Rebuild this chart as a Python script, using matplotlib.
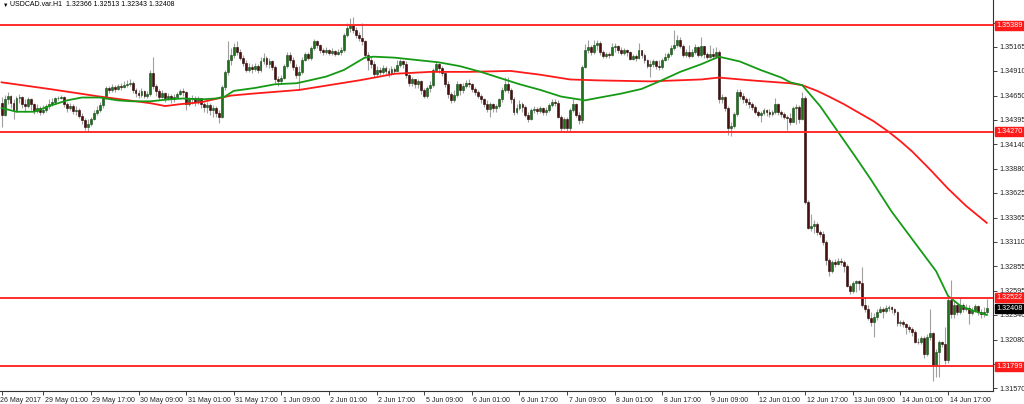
import numpy as np
import matplotlib
matplotlib.use("Agg")
import matplotlib.pyplot as plt
from matplotlib.transforms import ScaledTranslation, blended_transform_factory

plt.rcParams['font.family'] = ['Liberation Sans', 'DejaVu Sans']

# USDCAD H1, one bar per hour (bar index 0 = 26 May 2017 11:00)
first_open = 1.3457
close = [
    1.3445, 1.3461, 1.3465, 1.3457, 1.3450, 1.3462, 1.3464, 1.3456, 1.3454, 1.3461,
    1.3456, 1.3449, 1.3452, 1.3448, 1.3450, 1.3454, 1.3456, 1.3458, 1.3462, 1.3463,
    1.3464, 1.3456, 1.3452, 1.3454, 1.3449, 1.3450, 1.3444, 1.3439, 1.3432, 1.3435,
    1.3440, 1.3447, 1.3450, 1.3455, 1.3463, 1.3473, 1.3471, 1.3474, 1.3472, 1.3475,
    1.3474, 1.3476, 1.3477, 1.3478, 1.3471, 1.3468, 1.3466, 1.3470, 1.3465, 1.3467,
    1.3489, 1.3475, 1.3470, 1.3464, 1.3468, 1.3463, 1.3465, 1.3461, 1.3464, 1.3467,
    1.3470, 1.3469, 1.3456, 1.3461, 1.3463, 1.3458, 1.3462, 1.3456, 1.3453, 1.3455,
    1.3450, 1.3452, 1.3447, 1.3443, 1.3474, 1.3490, 1.3503, 1.3508, 1.3516, 1.3511,
    1.3505, 1.3499, 1.3492, 1.3495, 1.3493, 1.3496, 1.3492, 1.3501, 1.3505, 1.3498,
    1.3501, 1.3495, 1.3482, 1.3480, 1.3484, 1.3496, 1.3508, 1.3503, 1.3495, 1.3487,
    1.3490, 1.3503, 1.3509, 1.3505, 1.3515, 1.3522, 1.3518, 1.3513, 1.3511, 1.3513,
    1.3510, 1.3512, 1.3509, 1.3511, 1.3513, 1.3529, 1.3536, 1.3539, 1.3534, 1.3529,
    1.3526, 1.3522, 1.3508, 1.3503, 1.3498, 1.3488, 1.3492, 1.3490, 1.3494, 1.3491,
    1.3489, 1.3493, 1.3491, 1.3497, 1.3501, 1.3498, 1.3487, 1.3478, 1.3482, 1.3477,
    1.3480, 1.3471, 1.3465, 1.3473, 1.3476, 1.3492, 1.3498, 1.3494, 1.3489, 1.3477,
    1.3467, 1.3460, 1.3466, 1.3477, 1.3471, 1.3475, 1.3478, 1.3477, 1.3472, 1.3469,
    1.3465, 1.3461, 1.3456, 1.3451, 1.3456, 1.3452, 1.3454, 1.3461, 1.3471, 1.3477,
    1.3471, 1.3461, 1.3448, 1.3452, 1.3456, 1.3453, 1.3445, 1.3440, 1.3450, 1.3451,
    1.3449, 1.3452, 1.3448, 1.3450, 1.3455, 1.3458, 1.3457, 1.3443, 1.3431, 1.3440,
    1.3431, 1.3450, 1.3456, 1.3445, 1.3439, 1.3495, 1.3513, 1.3516, 1.3511, 1.3518,
    1.3520, 1.3511, 1.3507, 1.3509, 1.3508, 1.3516, 1.3517, 1.3513, 1.3510, 1.3513,
    1.3511, 1.3504, 1.3507, 1.3505, 1.3513, 1.3508, 1.3502, 1.3496, 1.3498, 1.3501,
    1.3496, 1.3495, 1.3503, 1.3506, 1.3509, 1.3515, 1.3518, 1.3524, 1.3517, 1.3508,
    1.3511, 1.3507, 1.3511, 1.3516, 1.3508, 1.3517, 1.3509, 1.3506, 1.3509, 1.3507,
    1.3511, 1.3461, 1.3464, 1.3452, 1.3431, 1.3433, 1.3446, 1.3469, 1.3465, 1.3461,
    1.3458, 1.3456, 1.3453, 1.3448, 1.3445, 1.3447, 1.3450, 1.3448, 1.3446, 1.3448,
    1.3456, 1.3448, 1.3446, 1.3443, 1.3441, 1.3437, 1.3452, 1.3453, 1.3440, 1.3463,
    1.3353, 1.3326, 1.3328, 1.3330, 1.3321, 1.3319, 1.3311, 1.3292, 1.3280, 1.3290,
    1.3288, 1.3291, 1.3290, 1.3286, 1.3265, 1.3259, 1.3268, 1.3270, 1.3268, 1.3245,
    1.3240, 1.3231, 1.3227, 1.3232, 1.3237, 1.3240, 1.3238, 1.3241, 1.3242, 1.3240,
    1.3237, 1.3225, 1.3227, 1.3224, 1.3221, 1.3219, 1.3216, 1.3206, 1.3205, 1.3210,
    1.3193, 1.3211, 1.3215, 1.3180, 1.3195, 1.3205, 1.3203, 1.3187, 1.3250, 1.3235,
    1.3244, 1.3237, 1.3245, 1.3240, 1.3241, 1.3236, 1.3239, 1.3243, 1.3237, 1.3235,
    1.32366, 1.32408]
high = [
    1.3464, 1.3466, 1.3469, 1.3466, 1.3461, 1.3465, 1.3467, 1.3465, 1.3461, 1.3464,
    1.3463, 1.3457, 1.3456, 1.3454, 1.3455, 1.3456, 1.3461, 1.3463, 1.3464, 1.3465,
    1.3466, 1.3465, 1.3458, 1.3457, 1.3456, 1.3454, 1.3452, 1.3447, 1.3441, 1.3440,
    1.3443, 1.3450, 1.3454, 1.3458, 1.3465, 1.3475, 1.3475, 1.3477, 1.3476, 1.3477,
    1.3478, 1.3480, 1.3481, 1.3482, 1.3480, 1.3473, 1.3471, 1.3473, 1.3471, 1.3470,
    1.3492, 1.3506, 1.3477, 1.3472, 1.3471, 1.3469, 1.3468, 1.3467, 1.3467, 1.3469,
    1.3472, 1.3473, 1.3470, 1.3464, 1.3466, 1.3465, 1.3465, 1.3463, 1.3458, 1.3458,
    1.3457, 1.3455, 1.3454, 1.3450, 1.3476, 1.3492, 1.3522, 1.3515, 1.3520, 1.3522,
    1.3514, 1.3508, 1.3502, 1.3499, 1.3498, 1.3499, 1.3498, 1.3506, 1.3510, 1.3507,
    1.3505, 1.3503, 1.3497, 1.3486, 1.3487, 1.3498, 1.3511, 1.3511, 1.3506, 1.3498,
    1.3496, 1.3506, 1.3511, 1.3511, 1.3517, 1.3525, 1.3524, 1.3519, 1.3515, 1.3516,
    1.3514, 1.3515, 1.3513, 1.3514, 1.3516, 1.3531, 1.3542, 1.3547, 1.3548, 1.3537,
    1.3532, 1.3542, 1.3524, 1.3511, 1.3507, 1.3501, 1.3496, 1.3495, 1.3497, 1.3496,
    1.3494, 1.3496, 1.3495, 1.3503, 1.3504, 1.3503, 1.3501, 1.3489, 1.3485, 1.3483,
    1.3482, 1.3481, 1.3473, 1.3475, 1.3480, 1.3494, 1.3501, 1.3499, 1.3496, 1.3490,
    1.3480, 1.3469, 1.3471, 1.3480, 1.3478, 1.3478, 1.3481, 1.3482, 1.3478, 1.3474,
    1.3471, 1.3467, 1.3463, 1.3460, 1.3458, 1.3457, 1.3456, 1.3463, 1.3474, 1.3485,
    1.3485, 1.3473, 1.3464, 1.3456, 1.3460, 1.3458, 1.3455, 1.3448, 1.3452, 1.3454,
    1.3453, 1.3454, 1.3453, 1.3453, 1.3457, 1.3461, 1.3461, 1.3460, 1.3445, 1.3443,
    1.3442, 1.3452, 1.3461, 1.3457, 1.3448, 1.3497, 1.3519, 1.3524, 1.3518, 1.3524,
    1.3524, 1.3522, 1.3513, 1.3511, 1.3511, 1.3520, 1.3520, 1.3518, 1.3516, 1.3515,
    1.3514, 1.3512, 1.3509, 1.3509, 1.3520, 1.3513, 1.3510, 1.3504, 1.3503, 1.3504,
    1.3503, 1.3502, 1.3505, 1.3510, 1.3511, 1.3518, 1.3534, 1.3529, 1.3527, 1.3519,
    1.3514, 1.3518, 1.3514, 1.3519, 1.3517, 1.3527, 1.3517, 1.3511, 1.3518, 1.3515,
    1.3516, 1.3513, 1.3467, 1.3465, 1.3454, 1.3437, 1.3448, 1.3472, 1.3472, 1.3468,
    1.3464, 1.3462, 1.3458, 1.3455, 1.3450, 1.3449, 1.3452, 1.3451, 1.3451, 1.3450,
    1.3463, 1.3457, 1.3450, 1.3448, 1.3445, 1.3447, 1.3454, 1.3456, 1.3455, 1.3469,
    1.3465, 1.3355, 1.3340, 1.3334, 1.3332, 1.3323, 1.3322, 1.3313, 1.3294, 1.3292,
    1.3293, 1.3294, 1.3294, 1.3292, 1.3288, 1.3267, 1.3270, 1.3271, 1.3271, 1.3285,
    1.3253, 1.3245, 1.3237, 1.3236, 1.3240, 1.3243, 1.3242, 1.3244, 1.3244, 1.3243,
    1.3241, 1.3238, 1.3229, 1.3229, 1.3226, 1.3223, 1.3221, 1.3218, 1.3210, 1.3212,
    1.3212, 1.3214, 1.3240, 1.3216, 1.3198, 1.3208, 1.3207, 1.3221, 1.3252, 1.3271,
    1.3250, 1.3247, 1.3252, 1.3247, 1.3246, 1.3244, 1.3242, 1.3246, 1.3244, 1.3240,
    1.3242, 1.32513]
low = [
    1.3432, 1.3444, 1.3456, 1.3452, 1.3440, 1.3448, 1.3457, 1.3452, 1.3448, 1.3452,
    1.3450, 1.3446, 1.3447, 1.3445, 1.3446, 1.3448, 1.3451, 1.3454, 1.3456, 1.3460,
    1.3461, 1.3453, 1.3448, 1.3450, 1.3446, 1.3445, 1.3441, 1.3435, 1.3429, 1.3427,
    1.3433, 1.3439, 1.3445, 1.3448, 1.3452, 1.3461, 1.3468, 1.3469, 1.3469, 1.3471,
    1.3471, 1.3473, 1.3474, 1.3475, 1.3468, 1.3464, 1.3462, 1.3464, 1.3462, 1.3463,
    1.3465, 1.3472, 1.3465, 1.3460, 1.3462, 1.3458, 1.3460, 1.3457, 1.3458, 1.3462,
    1.3466, 1.3465, 1.3450, 1.3454, 1.3456, 1.3454, 1.3456, 1.3452, 1.3448, 1.3447,
    1.3445, 1.3443, 1.3442, 1.3436, 1.3441, 1.3471, 1.3487, 1.3497, 1.3505, 1.3508,
    1.3502, 1.3496, 1.3490, 1.3490, 1.3489, 1.3491, 1.3489, 1.3490, 1.3498, 1.3495,
    1.3494, 1.3492, 1.3478, 1.3475, 1.3477, 1.3482, 1.3494, 1.3499, 1.3492, 1.3484,
    1.3471, 1.3488, 1.3501, 1.3502, 1.3503, 1.3513, 1.3515, 1.3510, 1.3508, 1.3509,
    1.3508, 1.3508, 1.3507, 1.3508, 1.3508, 1.3511, 1.3527, 1.3532, 1.3531, 1.3526,
    1.3522, 1.3518, 1.3505, 1.3492, 1.3494, 1.3485, 1.3486, 1.3487, 1.3488, 1.3488,
    1.3485, 1.3487, 1.3488, 1.3491, 1.3495, 1.3494, 1.3484, 1.3475, 1.3475, 1.3473,
    1.3473, 1.3467, 1.3462, 1.3463, 1.3469, 1.3474, 1.3490, 1.3489, 1.3486, 1.3474,
    1.3463, 1.3457, 1.3458, 1.3464, 1.3466, 1.3468, 1.3473, 1.3474, 1.3469, 1.3466,
    1.3463, 1.3457, 1.3453, 1.3448, 1.3443, 1.3448, 1.3448, 1.3452, 1.3458, 1.3469,
    1.3468, 1.3457, 1.3445, 1.3446, 1.3450, 1.3448, 1.3442, 1.3437, 1.3439, 1.3447,
    1.3446, 1.3447, 1.3445, 1.3445, 1.3448, 1.3453, 1.3454, 1.3441, 1.3427, 1.3430,
    1.3427, 1.3428, 1.3448, 1.3442, 1.3435, 1.3436, 1.3494, 1.3510, 1.3508, 1.3509,
    1.3513, 1.3508, 1.3505, 1.3505, 1.3505, 1.3507, 1.3511, 1.3510, 1.3508, 1.3508,
    1.3507, 1.3502, 1.3503, 1.3501, 1.3504, 1.3505, 1.3499, 1.3494, 1.3485, 1.3495,
    1.3493, 1.3492, 1.3493, 1.3501, 1.3503, 1.3507, 1.3513, 1.3516, 1.3515, 1.3506,
    1.3506, 1.3505, 1.3506, 1.3509, 1.3506, 1.3506, 1.3505, 1.3504, 1.3505, 1.3504,
    1.3505, 1.3457, 1.3457, 1.3449, 1.3424, 1.3422, 1.3431, 1.3444, 1.3461, 1.3457,
    1.3455, 1.3452, 1.3450, 1.3446, 1.3443, 1.3437, 1.3445, 1.3444, 1.3443, 1.3444,
    1.3446, 1.3445, 1.3442, 1.3440, 1.3429, 1.3434, 1.3437, 1.3435, 1.3436, 1.3439,
    1.3351, 1.3324, 1.3322, 1.3320, 1.3318, 1.3316, 1.3308, 1.3287, 1.3275, 1.3278,
    1.3285, 1.3287, 1.3287, 1.3279, 1.3263, 1.3256, 1.3257, 1.3258, 1.3260, 1.3242,
    1.3237, 1.3229, 1.3222, 1.3211, 1.3229, 1.3236, 1.3231, 1.3236, 1.3238, 1.3236,
    1.3234, 1.3222, 1.3222, 1.3221, 1.3214, 1.3216, 1.3212, 1.3204, 1.3203, 1.3203,
    1.3189, 1.3191, 1.3208, 1.3164, 1.3169, 1.3169, 1.3200, 1.3182, 1.3183, 1.3231,
    1.3231, 1.3234, 1.3235, 1.3237, 1.3238, 1.3224, 1.3234, 1.3237, 1.3234, 1.3231,
    1.3232, 1.32343]

# moving averages at selected bars
green_bars = [0, 5, 11, 16, 22, 27, 33, 39, 44, 50, 56, 61, 67, 72, 75, 78, 85, 92, 99,
              102, 109, 115, 122, 125, 132, 141, 147, 154, 161, 167, 174, 181, 188, 194,
              196, 201, 208, 215, 221, 228, 235, 241, 248, 255, 262, 265, 269, 275, 281,
              287, 292, 299, 304, 309, 314, 318, 322, 325, 331]
green_ma = [1.3452, 1.3448, 1.3448, 1.3454, 1.3460, 1.3463, 1.3463, 1.3460, 1.3459,
            1.3459, 1.3461, 1.3462, 1.3461, 1.3462, 1.3464, 1.3470, 1.3473, 1.3477,
            1.3478, 1.3480, 1.3485, 1.3492, 1.3505, 1.3506, 1.3505, 1.3502, 1.3500,
            1.3496, 1.3490, 1.3484, 1.3477, 1.3471, 1.3464, 1.3461, 1.3460, 1.3463,
            1.3467, 1.3472, 1.3480, 1.3490, 1.3498, 1.3506, 1.3501, 1.3492, 1.3484,
            1.3479, 1.3476, 1.3454, 1.3427, 1.3400, 1.3377, 1.3343, 1.3322, 1.3301,
            1.3280, 1.3254, 1.3244, 1.3240, 1.3234]
red_bars = [0, 16, 33, 50, 55, 60, 67, 77, 84, 100, 110, 120, 127, 132, 144, 157, 171,
            181, 191, 201, 218, 235, 241, 252, 265, 269, 274, 278, 283, 288, 293, 298,
            302, 306, 312, 318, 324, 331]
red_ma = [1.3479, 1.3472, 1.3464, 1.3457, 1.3454, 1.3456, 1.3458, 1.3465, 1.3467, 1.3471,
          1.3476, 1.3481, 1.3485, 1.3488, 1.3490, 1.3490, 1.3491, 1.3487, 1.3482, 1.3481,
          1.3480, 1.3482, 1.3484, 1.3481, 1.3478, 1.3476, 1.3470, 1.3464, 1.3456, 1.3447,
          1.3438, 1.3427, 1.3417, 1.3406, 1.3387, 1.3367, 1.3349, 1.3331]

levels = [1.35389, 1.34270, 1.32522, 1.31799]
last_price = 1.32408
price_ticks = [1.35420, 1.35165, 1.34910, 1.34650, 1.34395, 1.34140, 1.33880, 1.33625,
               1.33365, 1.33110, 1.32855, 1.32595, 1.32340, 1.32080, 1.31825, 1.31570]
hidden_ticks = [1.35420, 1.31825]   # covered by the level labels
time_bars = [0, 14, 30, 46, 62, 78, 94, 110, 126, 142, 158, 174, 190, 206, 222, 238,
             254, 270, 286, 302, 318]
time_labels = ['26 May 2017', '29 May 01:00', '29 May 17:00', '30 May 09:00',
               '31 May 01:00', '31 May 17:00', '1 Jun 09:00', '2 Jun 01:00',
               '2 Jun 17:00', '5 Jun 09:00', '6 Jun 01:00', '6 Jun 17:00',
               '7 Jun 09:00', '8 Jun 01:00', '8 Jun 17:00', '9 Jun 09:00',
               '12 Jun 01:00', '12 Jun 17:00', '13 Jun 09:00', '14 Jun 01:00',
               '14 Jun 17:00']
title = 'USDCAD.var.H1  1.32366 1.32513 1.32343 1.32408'

c = np.array(close)
h = np.array(high)
l = np.array(low)
o = np.r_[first_open, c[:-1]]
idx = np.arange(len(c))
up = c >= o

fig = plt.figure(figsize=(10.24, 4.04), dpi=100)
ax = fig.add_axes([0, 13 / 404, 993 / 1024, 391 / 404])
ax.set_xlim(-0.54, 333.1)
ax.set_ylim(1.31539, 1.35657)

ax.vlines(idx, l, h, color='#a0a0a0', lw=0.8, zorder=2)
body = np.abs(c - o)
body = np.where(body < 0.00004, 0.00004, body)
ax.bar(idx[up], body[up], bottom=np.minimum(o, c)[up], width=0.64,
       color='#1f6f1f', edgecolor='#124812', lw=0.4, zorder=3)
ax.bar(idx[~up], body[~up], bottom=np.minimum(o, c)[~up], width=0.64,
       color='#4a0e0e', edgecolor='#2a0505', lw=0.4, zorder=3)

ax.plot(red_bars, red_ma, color='#ff1a1a', lw=1.3, zorder=4)
ax.plot(green_bars, green_ma, color='#159a15', lw=1.3, zorder=4)
for lev in levels:
    ax.axhline(lev, color='#ff2b2b', lw=1.4, zorder=4)

for s in ['top', 'left']:
    ax.spines[s].set_visible(False)
for s in ['right', 'bottom']:
    ax.spines[s].set_color('#333333')
    ax.spines[s].set_linewidth(0.8)

ax.yaxis.tick_right()
ax.set_yticks(price_ticks, ['' if t in hidden_ticks else '%.5f' % t for t in price_ticks])
ax.tick_params(axis='y', direction='out', length=3, width=0.6, pad=1.5,
               labelsize=5.2, colors='#222222')
ax.set_xticks(time_bars, time_labels)
ax.tick_params(axis='x', direction='out', length=3, width=0.6, pad=1,
               labelsize=5.0, colors='#222222')
for k, lbl in enumerate(ax.get_xticklabels()):
    lbl.set_horizontalalignment('left')
    dx = -1.5 if k == 0 else 1.5
    lbl.set_transform(lbl.get_transform() + ScaledTranslation(dx / 100, 0, fig.dpi_scale_trans))

trans = blended_transform_factory(ax.transAxes, ax.transData)
for lev in levels:
    ax.text(1.0 + 3 / 993, lev, '%.5f' % lev, transform=trans, ha='left', va='center',
            fontsize=5.2, color='white', clip_on=False, zorder=10,
            bbox=dict(boxstyle='square,pad=0.18', fc='#ff1a1a', ec='#ff1a1a'))
ax.text(1.0 + 3 / 993, last_price, '%.5f' % last_price, transform=trans, ha='left',
        va='center', fontsize=5.2, color='white', clip_on=False, zorder=10,
        bbox=dict(boxstyle='square,pad=0.15', fc='black', ec='black'))

fig.text(3 / 1024, 1 - 5 / 404, '\u25bc', fontsize=4, va='center', ha='left', color='black')
fig.text(10 / 1024, 1 - 5 / 404, title, fontsize=5.0, va='center', ha='left', color='black')

fig.savefig('out.png', dpi=100)
